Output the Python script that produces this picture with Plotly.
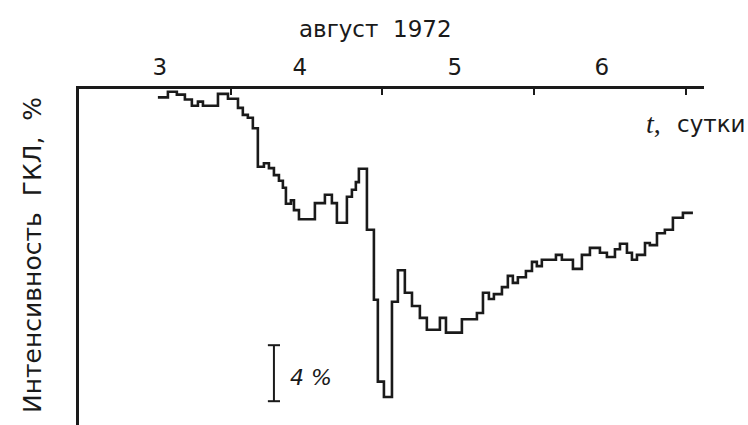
import plotly.graph_objects as go

# Time in days (August 1972), start of each hourly step
t_days = [3.520, 3.586, 3.645, 3.698, 3.744, 3.784, 3.817, 3.916, 3.982, 4.048,
          4.080, 4.113, 4.146, 4.179, 4.219, 4.252, 4.285, 4.318, 4.344, 4.364,
          4.397, 4.417, 4.450, 4.555, 4.621, 4.667, 4.700, 4.766, 4.799, 4.825,
          4.845, 4.898, 4.944, 4.970, 5.010, 5.063, 5.102, 5.148, 5.195, 5.247,
          5.293, 5.379, 5.419, 5.524, 5.623, 5.663, 5.702, 5.735, 5.788, 5.827,
          5.860, 5.893, 5.946, 5.986, 6.018, 6.051, 6.144, 6.183, 6.256, 6.315,
          6.368, 6.434, 6.480, 6.533, 6.566, 6.612, 6.645, 6.678, 6.731, 6.763,
          6.810, 6.862, 6.915, 6.981, 7.047]
# Cosmic ray intensity deviation, %
intensity = [-0.6, -0.2, -0.4, -0.75, -1.2, -0.9, -1.2, -0.35, -0.7, -1.35,
             -1.85, -2.05, -2.8, -5.55, -5.3, -5.65, -6.15, -6.55, -7.05, -8.2,
             -7.95, -8.65, -9.3, -8.15, -7.55, -8.15, -9.55, -7.7, -7.2, -6.65,
             -5.7, -10.05, -15.05, -20.9, -22.0, -15.2, -12.95, -14.55, -15.5, -16.35,
             -17.2, -16.35, -17.4, -16.45, -16.0, -14.55, -15.0, -14.65, -14.15, -13.35,
             -13.85, -13.45, -13.0, -12.35, -12.65, -12.2, -11.85, -12.2, -12.85, -11.85,
             -11.35, -11.7, -12.0, -11.45, -11.05, -11.7, -12.2, -11.85, -11.0, -11.15,
             -10.3, -10.05, -9.2, -8.85, -8.85]

day_labels = ["3", "4", "5", "6"]
day_label_pos = [3.533, 4.456, 5.478, 6.447]
day_ticks = [4, 5, 6, 7]

X_RANGE = [3.0, 7.12]
Y_RANGE = [-24.0, 0.0]
SCALE_BAR_PCT = 4
SCALE_BAR_X = 4.285
SCALE_BAR_TOP = -18.3

FONT = "DejaVu Sans, Liberation Sans, Arial, sans-serif"
INK = "#1a1a1a"

fig = go.Figure()
fig.add_trace(go.Scatter(
    x=t_days, y=intensity, mode="lines",
    line=dict(shape="hv", color=INK, width=2.6),
    showlegend=False, hoverinfo="skip"))

fig.update_layout(
    width=748, height=425,
    margin=dict(l=79, r=44, t=89, b=0),
    paper_bgcolor="white", plot_bgcolor="white",
    xaxis=dict(
        side="top", range=X_RANGE, showgrid=False, zeroline=False,
        showline=True, linecolor=INK, linewidth=3,
        tickmode="array", tickvals=day_label_pos, ticktext=day_labels,
        ticks="", ticklabelstandoff=2,
        tickfont=dict(family=FONT, size=23, color=INK),
        minor=dict(tickmode="array", tickvals=day_ticks, ticks="inside",
                   ticklen=6, tickwidth=1.5, tickcolor=INK, showgrid=False),
    ),
    yaxis=dict(
        range=Y_RANGE, showgrid=False, zeroline=False,
        showline=True, linecolor=INK, linewidth=2.5,
        showticklabels=False, ticks="",
    ),
)

# scale bar (4 %)
bar_bottom = SCALE_BAR_TOP - SCALE_BAR_PCT
fig.add_shape(type="line", x0=SCALE_BAR_X, x1=SCALE_BAR_X, y0=bar_bottom, y1=SCALE_BAR_TOP,
              line=dict(color=INK, width=2))
for yy in (bar_bottom, SCALE_BAR_TOP):
    fig.add_shape(type="line", x0=SCALE_BAR_X - 0.04, x1=SCALE_BAR_X + 0.04, y0=yy, y1=yy,
                  line=dict(color=INK, width=2))
fig.add_annotation(x=SCALE_BAR_X + 0.09, y=(SCALE_BAR_TOP + bar_bottom) / 2 - 0.3,
                   text="<i>4 %</i>", showarrow=False, xanchor="left", yanchor="middle",
                   font=dict(family=FONT, size=22, color=INK))

# top title
fig.add_annotation(text="август  1972", xref="paper", yref="paper", x=0.5, y=1.0,
                   xshift=-16, yshift=60, showarrow=False, xanchor="center", yanchor="middle",
                   font=dict(family=FONT, size=23, color=INK))
# y-axis title
fig.add_annotation(text="Интенсивность  ГКЛ,  %", xref="paper", yref="paper",
                   x=0, y=0.5, xshift=-47, yshift=2, textangle=-90, showarrow=False,
                   xanchor="center", yanchor="middle",
                   font=dict(family=FONT, size=25, color=INK))
# x-axis label
fig.add_annotation(text="<i>t</i>,", xref="paper", yref="paper", x=1.0, y=1.0,
                   xshift=-41, yshift=-34, showarrow=False, xanchor="right", yanchor="middle",
                   font=dict(family="Liberation Serif, Times New Roman, serif", size=28, color=INK))
fig.add_annotation(text="сутки", xref="paper", yref="paper", x=1.0, y=1.0,
                   xshift=44, yshift=-35, showarrow=False, xanchor="right", yanchor="middle",
                   font=dict(family=FONT, size=23, color=INK))

fig.write_html("out.html")
